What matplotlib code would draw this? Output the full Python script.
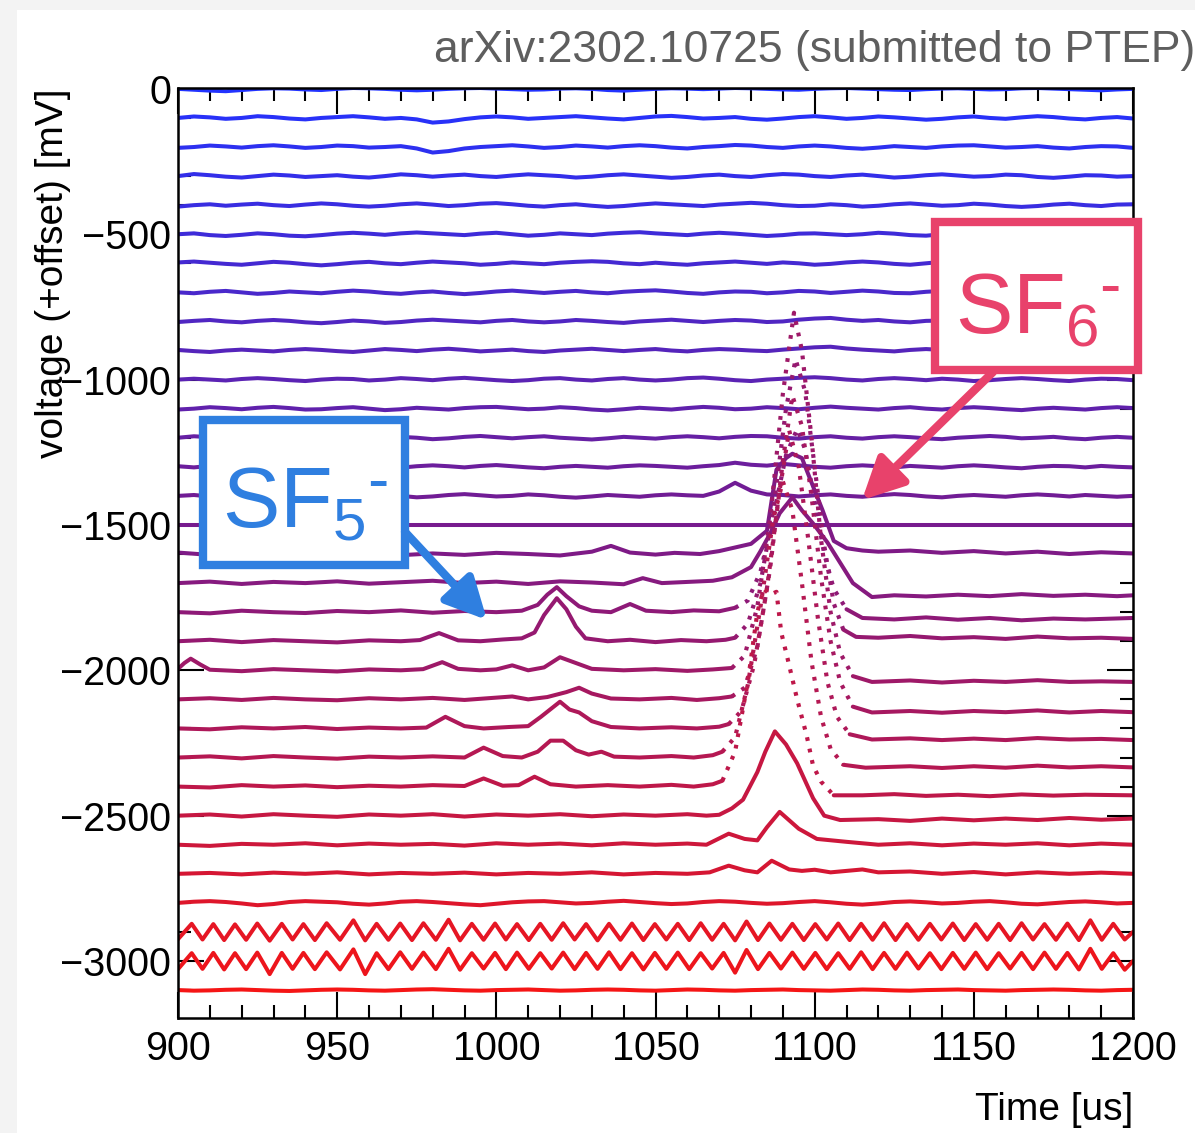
import numpy as np
import matplotlib.pyplot as plt
from matplotlib.colors import LinearSegmentedColormap
from matplotlib.patches import Rectangle, FancyArrowPatch
from matplotlib.ticker import MultipleLocator

plt.rcParams['font.family'] = ['Liberation Sans', 'DejaVu Sans']
plt.rcParams['mathtext.fontset'] = 'custom'
plt.rcParams['mathtext.rm'] = 'Liberation Sans'
plt.rcParams['mathtext.it'] = 'Liberation Sans:italic'

W, H = 1195, 1133

# ---- data: waveforms, deviation from each trace's offset in mV ----
t5 = np.arange(900, 1201, 5)   # sample times for the quiet traces

n00 = [0, -3, -6, -8, -4, 0, 2, 1, -2, -4,
       0, 3, 2, 0, -3, -5, -3, 0, 2, 3,
       1, -1, -3, -2, 1, 2, 0, -4, -6, -3,
       0, 2, 1, -1, 1, 3, 2, 0, -2, -3,
       0, 2, 3, 1, -1, -3, -4, -1, 1, 2,
       0, -2, -1, 2, 3, 1, -1, -3, -5, -2, 0]
n01 = [0, 5, 2, -3, 0, 6, 3, -2, -5, 0,
       3, 6, 2, -3, 0, -5, -16, -12, -4, 2,
       5, 2, -3, 0, 3, 6, 2, -2, -5, 0,
       5, 7, 3, -2, 0, 3, -3, -6, -2, 3,
       6, 2, -3, 0, 5, 2, -2, -6, -3, 2,
       5, 0, -3, 2, 6, 3, -2, -5, 0, 3, -2]
n02 = [-3, 0, 5, 2, -2, 3, 6, 2, -3, 0,
       5, 3, -2, 0, 3, -5, -19, -14, -5, 0,
       3, 6, 2, -3, 0, 5, 2, -2, 3, 6,
       3, -2, -5, 0, 3, 7, 5, 0, -3, 2,
       5, 2, -3, -6, -2, 3, 0, -3, 2, 5,
       6, 2, -2, 0, 3, -2, -5, 0, 3, 2, -3]
n03 = [0, 7, 3, -2, -5, 0, 5, 2, -3, 0,
       3, -2, -5, 0, 6, 3, -2, 2, 5, 0,
       -3, 2, 6, 3, 0, -5, -2, 3, 6, 2,
       -2, -6, -3, 2, 5, 0, -3, 3, 7, 5,
       0, -3, 2, 5, 0, -5, -2, 3, 6, 2,
       -2, 0, 5, 3, -3, -6, -2, 3, 2, -2, 0]
n04 = [-5, 0, 3, -2, 2, 5, 0, -3, 2, 6,
       3, -2, -5, -2, 3, 6, 2, -3, 0, 5,
       7, 3, -2, -5, 0, 3, -2, -6, -3, 2,
       6, 3, 0, -3, 2, 5, 8, 5, 0, -3,
       -2, 3, 0, -5, -2, 3, 6, 2, -2, 0,
       5, 2, -3, -6, -3, 2, 5, 0, -3, 2, 3]
n05 = [0, 3, -3, -6, -2, 3, 0, -5, -7, -3,
       2, 5, 2, -2, 3, 6, 3, 0, -3, 2,
       5, 0, -5, -2, 3, 0, -3, 2, 5, 7,
       3, 0, -3, 2, 5, 2, -2, -6, -3, 2,
       3, 0, -3, 0, 5, 2, -3, -5, 0, 3,
       6, 2, -2, 3, 0, -5, -2, 2, 5, 0, -3]
n06 = [3, 6, 2, -2, -5, 0, 5, 2, -3, -7,
       -3, 2, 5, 0, -3, 2, 6, 3, 0, -5,
       -2, 3, 0, -3, 2, 5, 7, 5, 0, -3,
       2, -2, -5, 0, 3, 6, 2, -2, 3, 0,
       -5, -2, 3, 6, 3, -2, -5, 0, 5, 2,
       -2, 3, 6, 2, -3, 0, 5, 2, -3, -2, 2]
n07 = [0, -3, 2, 5, 0, -5, -2, 3, 0, -3,
       2, 6, 3, -2, -5, 0, 3, -2, -6, -2,
       3, 6, 2, -2, 2, 5, 0, -3, 2, 5,
       7, 3, -2, -5, 0, 3, 2, -3, 0, 5,
       3, -2, 2, 6, 3, -2, -3, 2, 5, 0,
       -5, -2, 3, 0, -3, 2, 6, 3, -2, 0, 3]
n08 = [-2, 2, 5, 0, -3, 2, 5, 2, -3, -6,
       -2, 3, 0, -5, -2, 3, 6, 3, 0, -3,
       2, 5, 0, -3, 0, 5, 2, -2, -5, 0,
       3, 6, 2, -2, 2, 5, 3, -2, 0, 6,
       10, 12, 6, 2, 5, 0, -3, 2, 3, 0,
       -3, 2, 5, 2, -2, -5, 0, 3, 6, 3, 0]
n09 = [2, -2, -5, 0, 3, 0, -3, 2, 5, 2,
       -2, -5, 0, 5, 2, -2, 3, 6, 2, -3,
       0, 3, -2, -5, 0, 3, 6, 2, -2, 2,
       5, 0, -3, 2, 5, 3, 0, -2, 3, 7,
       11, 13, 7, 3, 0, -3, 2, 5, 2, -3,
       0, 3, 0, -5, -2, 3, 5, 2, 0, 3, 0]
n10 = [0, 3, 0, -3, 2, 5, 2, -2, -5, 0,
       3, 2, -3, 0, 5, 2, -2, 3, 6, 2,
       -2, -5, -2, 3, 5, 0, -3, 2, 5, 0,
       -3, 0, 5, 7, 3, -2, -5, 0, 3, 6,
       8, 5, 0, -3, 2, 5, 2, -2, 3, 0,
       -5, -2, 2, 5, 2, -2, -5, 0, 3, 2, -2]
n11 = [-3, 0, 5, 2, -2, 3, 6, 2, -3, -2,
       2, 5, 0, -5, -2, 3, 0, -3, 2, 5,
       6, 2, -2, 0, 5, 2, -3, -6, -2, 3,
       0, -3, 2, 6, 3, -2, 0, 5, 2, -2,
       3, 7, 3, 0, -3, 2, 5, 0, -3, 2,
       5, 2, -2, -5, 0, 3, 0, -3, 2, 5, 2]
n12 = [0, 5, 2, -2, -5, 0, 3, 6, 2, -3,
       0, 5, 2, -2, 3, 0, -5, -2, 3, 6,
       2, -2, 2, 5, 0, -3, -6, -2, 3, 0,
       -3, 2, 5, 2, -2, 3, 6, 5, 0, -3,
       2, 5, 0, -3, 2, 5, 2, -2, -5, 0,
       3, 6, 3, -2, 0, 3, -2, -5, 0, 3, 0]
n13 = [2, -2, 3, 6, 2, -3, 0, 5, 2, -2,
       -5, 0, 3, 0, -3, 2, 5, 2, -2, 3,
       6, 2, -2, -5, 0, 3, 0, -3, 2, 5,
       3, 0, -3, 2, 6, 14, 7, 4, 10, 5,
       0, -3, 2, 5, 2, -2, 3, 0, -3, 2,
       5, 2, -2, -5, 0, 3, 2, -2, 3, 0, -2]
n14 = [0, 3, -2, -5, 0, 5, 2, -3, 0, 3,
       6, 2, -2, 3, 0, -5, -2, 3, 6, 2,
       -2, 0, 5, 2, -3, -6, -2, 3, 0, -3,
       2, 5, 2, 0, 15, 45, 18, 5, 3, -2,
       2, 5, 0, -3, 2, 6, 3, -2, -5, 0,
       3, 0, -3, 2, 5, 2, -2, 3, 0, -3, 0]
n28 = [0, 4, 6, 3, -2, -8, -4, 3, 6, 4,
       2, -3, -6, -2, 4, 6, 3, -1, -5, -8,
       -3, 2, 5, 6, 2, -2, 0, 4, 7, 3,
       -1, -4, -2, 3, 6, 4, 0, -3, -1, 3,
       6, 2, -3, -6, -2, 3, 5, 2, -2, 0,
       4, 6, 2, -3, -5, -1, 3, 5, 2, -2, 0]
n31 = [0, -2, -1, 1, 2, 0, -2, -3, -1, 1,
       2, 1, -1, -2, 0, 2, 3, 1, -1, -2,
       0, 1, 2, 0, -2, -1, 1, 2, 1, -1,
       -2, 0, 2, 1, -1, -2, 0, 1, 2, 0,
       -1, -2, 0, 2, 1, -1, -2, 0, 1, 2,
       0, -1, -2, 0, 1, 2, 1, -1, -2, 0, 1]

wf15 = [(900, 0), (1200, 0)]
wf16 = [(900, 5), (910, -3), (920, 4), (930, 0), (940, 6), (950, -2), (960, 3), (970, -4),
        (980, 2), (990, -3), (1000, 4), (1010, 0), (1020, -5), (1030, 8), (1036, 28), (1042, 5),
        (1050, -2), (1056, 4), (1064, 0), (1070, 10), (1074, 20), (1080, 35), (1085, 80),
        (1088, 290), (1091, 330), (1093, 345), (1096, 330), (1098.5, 260), (1102.5, 150),
        (1106, 45), (1110, 20), (1115, 12), (1120, 8), (1130, 12), (1140, 4), (1150, 10),
        (1160, 2), (1170, 8), (1180, 0), (1190, 6), (1200, 2)]
wf17 = [(900, 0), (910, 5), (920, -3), (930, 4), (940, 0), (950, 6), (960, -2), (970, 3),
        (980, 8), (990, 0), (1000, 5), (1010, -3), (1020, 6), (1030, 2), (1040, -4), (1046, 17),
        (1052, 0), (1060, 4), (1068, 8), (1074, 20), (1080, 55), (1083, 110), (1086, 170),
        (1089, 240), (1093, 295), (1096, 250), (1099.5, 205), (1104, 140), (1108, 70),
        (1112, 0), (1118, -48), (1125, -42), (1135, -46), (1145, -40), (1155, -45),
        (1165, -38), (1175, -44), (1185, -40), (1195, -45), (1200, -42)]
wf18 = [(900, 0), (910, -4), (920, 5), (930, 0), (940, -3), (950, 4), (960, 0), (970, 6),
        (980, -2), (990, 4), (1000, 0), (1008, 5), (1013, 25), (1016, 60), (1019, 86),
        (1022, 55), (1026, 20), (1030, 5), (1036, 0), (1042, 28), (1047, 5), (1055, 0),
        (1062, 6), (1070, 3), (1075, 15), (1079, 40), (1083, 140), (1087, 330), (1091, 540),
        (1094.5, 630), (1097, 560), (1100, 380), (1103, 200), (1106, 80), (1110, 10),
        (1115, -20), (1125, -25), (1135, -18), (1145, -26), (1155, -20), (1165, -28),
        (1175, -22), (1185, -25), (1200, -20)]
wf19 = [(900, 0), (910, 5), (920, -3), (930, 4), (940, 0), (950, -4), (960, 3), (970, 0),
        (976, 4), (982, 28), (988, 3), (995, 0), (1002, 6), (1008, 10), (1012, 30), (1015, 90),
        (1019, 148), (1022, 110), (1025, 50), (1028, 10), (1035, 0), (1042, 5), (1050, -3),
        (1058, 4), (1066, 0), (1072, 5), (1075, 12), (1079, 60), (1083, 200), (1087, 450),
        (1091, 800), (1094, 970), (1097, 860), (1100, 600), (1103, 330), (1106, 130),
        (1109, 40), (1113, 15), (1120, 12), (1130, 18), (1140, 10), (1150, 14), (1160, 8),
        (1170, 16), (1180, 10), (1190, 12), (1200, 8)]
wf20 = [(900, 5), (902, 25), (904, 40), (907, 20), (910, 2), (920, -3), (930, 4), (940, 0),
        (950, -4), (960, 3), (970, 0), (977, 4), (983, 28), (988, 5), (995, 0), (1000, 3),
        (1005, 17), (1010, 0), (1015, 10), (1020, 45), (1025, 25), (1030, 5), (1040, 0),
        (1050, 4), (1060, -2), (1068, 3), (1074, 8), (1078, 50), (1082, 220), (1086, 520),
        (1090, 950), (1093.5, 1230), (1096, 1100), (1099, 800), (1102, 450), (1105, 200),
        (1108, 60), (1112, -20), (1118, -40), (1130, -35), (1140, -42), (1150, -36),
        (1160, -40), (1170, -34), (1180, -40), (1190, -38), (1200, -40)]
wf21 = [(900, 0), (910, 4), (920, -2), (930, 5), (940, 0), (950, -3), (960, 4), (970, 0),
        (980, 5), (990, -2), (1000, 6), (1005, 10), (1010, 0), (1016, 8), (1022, 25),
        (1026, 40), (1030, 20), (1036, 3), (1045, 0), (1055, 5), (1063, -2), (1070, 4),
        (1074, 10), (1078, 40), (1082, 180), (1086, 450), (1090, 820), (1093, 1045),
        (1096, 940), (1099, 700), (1102, 420), (1105, 200), (1108, 60), (1112, -25),
        (1118, -45), (1130, -40), (1140, -46), (1150, -40), (1160, -44), (1170, -38),
        (1180, -45), (1190, -40), (1200, -44)]
wf22 = [(900, 0), (910, -3), (920, 4), (930, 0), (940, 5), (950, -2), (960, 3), (970, 0),
        (978, 3), (984, 40), (990, 8), (996, 0), (1004, 5), (1010, 8), (1014, 40), (1020, 92),
        (1023, 65), (1026, 55), (1030, 25), (1036, 5), (1045, 0), (1055, 4), (1063, 0),
        (1070, 6), (1073, 15), (1077, 60), (1081, 220), (1085, 480), (1089, 820),
        (1092, 1025), (1095, 900), (1098, 650), (1101, 380), (1104, 160), (1107, 40),
        (1111, -20), (1118, -38), (1130, -34), (1140, -40), (1150, -35), (1160, -40),
        (1170, -33), (1180, -38), (1190, -36), (1200, -40)]
wf23 = [(900, 0), (910, 4), (920, -3), (930, 5), (940, 0), (950, -4), (960, 3), (970, 0),
        (980, 4), (990, 0), (996, 34), (1002, 5), (1008, 0), (1013, 20), (1017, 58),
        (1021, 58), (1025, 25), (1029, 10), (1033, 20), (1037, 3), (1045, 0), (1055, 5),
        (1062, 0), (1068, 8), (1071, 20), (1075, 70), (1079, 250), (1083, 520), (1087, 820),
        (1090, 950), (1093, 850), (1096, 600), (1099, 330), (1102, 140), (1105, 30),
        (1109, -25), (1116, -35), (1130, -30), (1140, -36), (1150, -30), (1160, -35),
        (1170, -28), (1180, -34), (1190, -30), (1200, -34)]
wf24 = [(900, 0), (910, -3), (920, 5), (930, 0), (940, 4), (950, -2), (960, 3), (970, 0),
        (980, 5), (990, 2), (996, 28), (1002, 3), (1007, 5), (1012, 34), (1017, 8), (1025, 0),
        (1035, 5), (1045, 0), (1055, 6), (1062, 0), (1068, 8), (1071, 20), (1075, 120),
        (1079, 360), (1082, 600), (1084, 680), (1086, 660), (1088, 670), (1089.5, 530),
        (1091.5, 440), (1094.5, 300), (1097.5, 175), (1099.5, 72), (1102, 17), (1106, -30),
        (1115, -30), (1125, -26), (1135, -32), (1145, -28), (1155, -33), (1165, -27),
        (1175, -31), (1185, -28), (1200, -30)]
wf25 = [(900, 0), (910, 4), (920, -3), (930, 5), (940, 0), (950, -4), (960, 4), (970, 0),
        (980, 5), (990, -3), (1000, 4), (1010, 0), (1020, 5), (1030, -2), (1040, 4), (1050, 0),
        (1060, 5), (1066, 0), (1070, 3), (1074, 25), (1077.5, 55), (1082, 150), (1084.5, 220),
        (1087.5, 290), (1091, 245), (1094.5, 180), (1099.5, 60), (1103, 0), (1108, -15),
        (1120, -12), (1130, -18), (1140, -10), (1150, -16), (1160, -10), (1170, -15),
        (1180, -8), (1190, -14), (1200, -10)]
wf26 = [(900, 0), (910, -4), (920, 3), (930, 0), (940, 5), (950, -2), (960, 4), (970, 0),
        (980, 3), (990, -3), (1000, 5), (1010, 0), (1020, 4), (1030, -2), (1040, 5), (1050, 0),
        (1060, 4), (1066, 0), (1073, 38), (1078, 20), (1082, 15), (1085, 60), (1089, 113),
        (1095, 55), (1100.7, 20), (1110, 10), (1120, 0), (1130, 5), (1140, -2), (1150, 4),
        (1160, 0), (1170, 5), (1180, -2), (1190, 4), (1200, 0)]
wf27 = [(900, 0), (910, 3), (920, -2), (930, 4), (940, 0), (950, 5), (960, -2), (970, 3),
        (980, 0), (990, 4), (1000, -2), (1010, 3), (1020, 0), (1030, 5), (1040, -2), (1050, 3),
        (1060, 0), (1067, 5), (1073, 28), (1078, 12), (1082, 5), (1086.5, 45), (1092, 15),
        (1096, 10), (1100, 14), (1105, 5), (1110, 10), (1115, 15), (1120, 5), (1130, 8),
        (1140, 0), (1150, 6), (1160, -2), (1170, 5), (1180, 0), (1190, 4), (1200, 0)]

# the two oscillating traces: crest / trough times and values
osc_t = [900,
         904.3, 907.7, 911.1, 914.5, 917.9, 921.4, 924.9, 928.8, 932.6, 936.0,
         939.4, 943.0, 946.7, 950.9, 955.1, 958.8, 962.4, 966.1, 969.8, 973.5,
         977.1, 981.0, 985.0, 988.6, 992.3, 996.0, 999.6, 1003.0, 1006.5, 1010.2,
         1013.8, 1017.4, 1021.0, 1024.6, 1028.2, 1031.8, 1035.4, 1039.0, 1042.6, 1046.2,
         1049.8, 1053.4, 1057.0, 1060.6, 1064.2, 1067.8, 1071.4, 1075.0, 1078.6, 1082.2,
         1085.8, 1089.4, 1093.0, 1096.6, 1100.2, 1103.8, 1107.4, 1111.0, 1114.6, 1118.2,
         1121.8, 1125.4, 1129.0, 1132.6, 1136.2, 1139.8, 1143.4, 1147.0, 1150.6, 1154.2,
         1157.8, 1161.4, 1165.0, 1168.6, 1172.2, 1175.8, 1179.4, 1183.0, 1186.6, 1190.2,
         1193.8, 1197.4, 1200]
osc29_v = [-25,
           28, -26, 27, -28, 26, -27, 29, -30, 28, -26,
           27, -28, 30, -27, 40, -29, 28, -27, 29, -28,
           30, -27, 42, -29, 28, -27, 29, -26, 27, -28,
           28, -27, 30, -26, 27, -29, 28, -27, 29, -28,
           27, -26, 28, -28, 30, -27, 28, -29, 36, -28,
           29, -27, 28, -28, 27, -26, 29, -28, 28, -27,
           30, -28, 27, -27, 28, -26, 29, -28, 27, -27,
           28, -28, 30, -26, 27, -27, 29, -28, 40, -27,
           28, -26, 0]
osc30_v = [-28,
           27, -27, 28, -29, 27, -28, 29, -45, 28, -27,
           28, -28, 30, -29, 40, -45, 27, -28, 30, -27,
           29, -28, 42, -30, 27, -26, 28, -28, 29, -27,
           27, -26, 29, -28, 28, -27, 30, -28, 27, -29,
           28, -27, 29, -28, 27, -26, 28, -40, 38, -28,
           28, -26, 29, -27, 28, -28, 27, -27, 30, -28,
           28, -27, 29, -26, 27, -28, 28, -27, 29, -28,
           27, -26, 28, -28, 29, -27, 28, -29, 42, -27,
           27, -30, 0]

quiet = {0: n00, 1: n01, 2: n02, 3: n03, 4: n04, 5: n05, 6: n06, 7: n07, 8: n08,
         9: n09, 10: n10, 11: n11, 12: n12, 13: n13, 14: n14, 28: n28, 31: n31}
pairs = {15: wf15, 16: wf16, 17: wf17, 18: wf18, 19: wf19, 20: wf20, 21: wf21,
         22: wf22, 23: wf23, 24: wf24, 25: wf25, 26: wf26, 27: wf27}
osc = {29: osc29_v, 30: osc30_v}
offset_step = -100   # mV between consecutive traces

# steep sections that ROOT rendered as separated markers
dotted_span = {18: (1075, 1110), 19: (1075, 1109), 20: (1074, 1112), 21: (1074, 1112),
               22: (1073, 1111), 23: (1071, 1109), 24: (1071, 1106)}


def trace(i):
    if i in quiet:
        v = np.array(quiet[i], dtype=float)
        return t5[:len(v)], v
    if i in osc:
        return np.array(osc_t[:len(osc[i])]), np.array(osc[i], dtype=float)
    arr = np.array(pairs[i], dtype=float)
    return arr[:, 0], arr[:, 1]


fig = plt.figure(figsize=(W / 100, H / 100), dpi=100, facecolor='#f3f3f3')
fig.add_artist(Rectangle((17 / W, 0), 1, 1 - 10 / H, transform=fig.transFigure,
                         facecolor='white', edgecolor='none', zorder=-1))
ax = fig.add_axes([178 / W, 1 - 1018 / H, (1133 - 178) / W, (1018 - 88) / H])

cmap = LinearSegmentedColormap.from_list('wf', ['#2233ff', '#7a1a8a', '#f51515'])
n_tr = 32
for i in range(n_tr):
    t, v = trace(i)
    y = v + offset_step * i
    c = cmap(i / (n_tr - 1))
    kw = dict(color=c, lw=2.9, solid_joinstyle='round', solid_capstyle='round',
              zorder=2 + i * 0.01)
    if i in dotted_span:
        a, b = dotted_span[i]
        m1, m2, m3 = t <= a, (t >= a) & (t <= b), t >= b
        ax.plot(t[m1], y[m1], **kw)
        ax.plot(t[m3], y[m3], **kw)
        ax.plot(t[m2], y[m2], color=c, lw=3.0, linestyle=(0, (0.9, 1.9)),
                dash_capstyle='butt', zorder=2 + i * 0.01)
    else:
        ax.plot(t, y, **kw)

ax.set_xlim(900, 1200)
ax.set_ylim(-3196, 3)
ax.xaxis.set_major_locator(MultipleLocator(50))
ax.xaxis.set_minor_locator(MultipleLocator(10))
ax.yaxis.set_major_locator(MultipleLocator(500))
ax.yaxis.set_minor_locator(MultipleLocator(100))
ax.tick_params(which='both', direction='in', top=True, right=True, width=1.5,
               labelsize=28.5, colors='black')
ax.tick_params(which='major', length=19)
ax.tick_params(which='minor', length=9.5)
ax.tick_params(axis='x', pad=9)
ax.tick_params(axis='y', pad=5)
for s in ax.spines.values():
    s.set_linewidth(1.8)

fig.text(53 / W, 1 - 88 / H, 'voltage (+offset) [mV]', rotation=90, ha='center',
         va='top', fontsize=28)
fig.text(1133 / W, 1 - 1110 / H, 'Time [us]', ha='right', va='center', fontsize=28)
fig.text(1.0, 1 - 62 / H, 'arXiv:2302.10725 (submitted to PTEP)', ha='right',
         va='baseline', fontsize=32, color='#5e5e5e')

# annotation boxes and arrows
pink = '#e8426b'
blue = '#2f7fe0'
fig.add_artist(Rectangle((935 / W, 1 - 370 / H), (1138 - 935) / W, (370 - 222) / H,
                         transform=fig.transFigure, facecolor='white', edgecolor=pink,
                         lw=6, zorder=5))
fig.text(955 / W, 1 - 333 / H, r'SF$_{6}$', fontsize=62, color=pink,
         ha='left', va='baseline', zorder=6)
fig.text(1099 / W, 1 - 289 / H, '-', fontsize=46, color=pink,
         ha='left', va='center', zorder=6)
fig.add_artist(FancyArrowPatch((993 / W, 1 - 372 / H), (862 / W, 1 - 500 / H),
                               transform=fig.transFigure, arrowstyle='-|>',
                               mutation_scale=62, lw=6, color=pink, shrinkA=0,
                               shrinkB=0, zorder=6))

fig.add_artist(Rectangle((203 / W, 1 - 565 / H), (405 - 203) / W, (565 - 420) / H,
                         transform=fig.transFigure, facecolor='white', edgecolor=blue,
                         lw=6, zorder=5))
fig.text(222 / W, 1 - 527 / H, r'SF$_{5}$', fontsize=62, color=blue,
         ha='left', va='baseline', zorder=6)
fig.text(367 / W, 1 - 484 / H, '-', fontsize=46, color=blue,
         ha='left', va='center', zorder=6)
fig.add_artist(FancyArrowPatch((405 / W, 1 - 532 / H), (487 / W, 1 - 620 / H),
                               transform=fig.transFigure, arrowstyle='-|>',
                               mutation_scale=62, lw=6, color=blue, shrinkA=0,
                               shrinkB=0, zorder=6))

fig.savefig('out.png', dpi=100, facecolor=fig.get_facecolor())
